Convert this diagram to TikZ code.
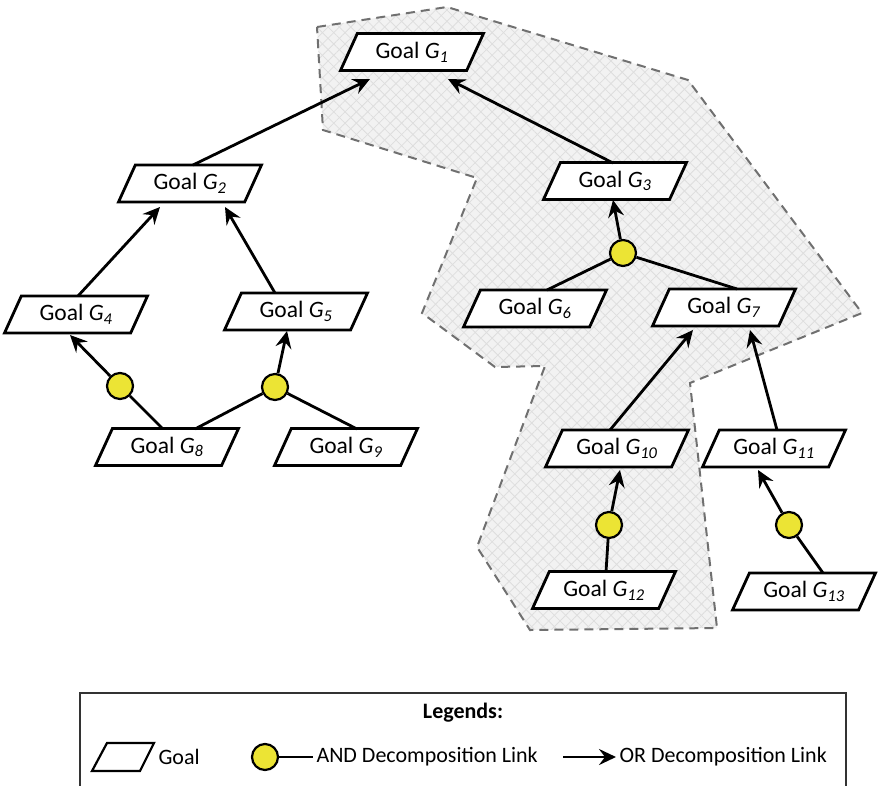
\documentclass[tikz,border=0pt]{standalone}
\usepackage{fontspec}
\setmainfont{Carlito}
\usetikzlibrary{shapes.geometric,arrows.meta,calc,patterns.meta}
\definecolor{andyellow}{RGB}{236,228,52}
\definecolor{zonegray}{RGB}{112,112,112}
\newcommand\goaltext[1]{Goal \textit{G}\textsubscript{\textit{#1}}}
\begin{document}
\begin{tikzpicture}[x=1pt,y=-1pt,
  goal/.style={shape=trapezium, trapezium left angle=50, trapezium right angle=130,
    trapezium stretches body, draw, line width=2.8pt, fill=white, inner sep=0pt,
    minimum width=143pt, minimum height=37pt, font=\fontsize{23.5}{26}\selectfont},
  andlink/.style={circle, draw, line width=2.2pt, fill=andyellow, minimum size=26pt, inner sep=0pt},
  link/.style={line width=2.8pt},
  orlink/.style={link, -{Stealth[length=17pt,width=16pt,inset=6pt]}},
  zone/.style={draw=zonegray, line width=2pt, dash pattern=on 9pt off 6pt},
  legtext/.style={anchor=west, font=\fontsize{22}{25}\selectfont},
]
\useasboundingbox (0,0) rectangle (878,785);

% shaded goal zone
\path[fill=black!5,
  postaction={pattern={Lines[angle=45,distance=8pt,line width=0.8pt]}, pattern color=black!13},
  postaction={pattern={Lines[angle=-45,distance=8pt,line width=0.8pt]}, pattern color=black!13},
  postaction={zone}]
  (317,27) -- (447,7) -- (688,80) -- (862,313) -- (690,383) -- (717,628)
  -- (530,630) -- (477,547) -- (545,366) -- (495,367) -- (422,313)
  -- (477,178) -- (323,130) -- cycle;

% goals
\node[goal] (G1)  at (412,52)    {\goaltext{1}};
\node[goal] (G2)  at (190,183.5) {\goaltext{2}};
\node[goal] (G3)  at (615,181)   {\goaltext{3}};
\node[goal] (G4)  at (76,314.5)  {\goaltext{4}};
\node[goal] (G5)  at (296,311.5) {\goaltext{5}};
\node[goal] (G6)  at (535,308.5) {\goaltext{6}};
\node[goal] (G7)  at (724,307.5) {\goaltext{7}};
\node[goal] (G8)  at (167,447)   {\goaltext{8}};
\node[goal] (G9)  at (346,447)   {\goaltext{9}};
\node[goal] (G10) at (617,448.5) {\goaltext{10}};
\node[goal] (G11) at (774,448.5) {\goaltext{11}};
\node[goal] (G12) at (604,590)   {\goaltext{12}};
\node[goal] (G13) at (804,591.5) {\goaltext{13}};

% AND decomposition points
\node[andlink] (A1) at (120,386) {};
\node[andlink] (A2) at (275,387) {};
\node[andlink] (A3) at (623,253) {};
\node[andlink] (A4) at (609,525) {};
\node[andlink] (A5) at (789,525) {};

% OR decomposition links
\draw[orlink] ($(G2)+(3,-18.5)$)   -- ($(G1)+(-42,27)$);
\draw[orlink] ($(G3)+(-2,-18)$)    -- ($(G1)+(36,27)$);
\draw[orlink] ($(G4)+(2,-18.5)$)   -- ($(G2)+(-30,23.5)$);
\draw[orlink] ($(G5)+(-21,-18.5)$) -- ($(G2)+(35,23.5)$);
\draw[orlink] ($(G10)+(-7,-18.5)$) -- ($(G7)+(-31,22.5)$);
\draw[orlink] ($(G11)+(3,-18.5)$)  -- ($(G7)+(26,22.5)$);

% AND decomposition links
\draw[orlink] (A1) -- ($(G4)+(-6,20.5)$);
\draw[link]   (A1) -- ($(G8)+(-4,-18)$);
\draw[orlink] (A2) -- ($(G5)+(-9,19.5)$);
\draw[link]   (A2) -- ($(G8)+(28,-18)$);
\draw[link]   (A2) -- ($(G9)+(11,-18)$);
\draw[orlink] (A3) -- ($(G3)+(-2,19)$);
\draw[link]   (A3) -- ($(G6)+(12,-18.5)$);
\draw[link]   (A3) -- ($(G7)+(13,-18.5)$);
\draw[orlink] (A4) -- ($(G10)+(3,21.5)$);
\draw[link]   (A4) -- ($(G12)+(2,-18)$);
\draw[orlink] (A5) -- ($(G11)+(-16,21.5)$);
\draw[link]   (A5) -- ($(G13)+(19,-18.5)$);

% legend
\draw[line width=1.5pt, draw=black!80] (80,795) -- (80,693) -- (846,693) -- (846,795);
\node[font=\bfseries\fontsize{22}{25}\selectfont] (legtitle) at (463,713) {Legends:};
\draw[line width=2.2pt, line join=miter] (107,743) -- (154,743) -- (140,771) -- (92,771) -- cycle;
\node[legtext] (leggoaltxt) at (155,757) {Goal};
\node[andlink] (legand) at (265,757) {};
\node[legtext] (legandtxt) at (313,757) {AND Decomposition Link};
\draw[link, line width=2.2pt] (legand) -- (legandtxt.west);
\coordinate (legorstart) at (563,757);
\node[legtext] (legortxt) at (616,757) {OR Decomposition Link};
\draw[orlink] (legorstart) -- (legortxt.west);
\end{tikzpicture}
\end{document}
